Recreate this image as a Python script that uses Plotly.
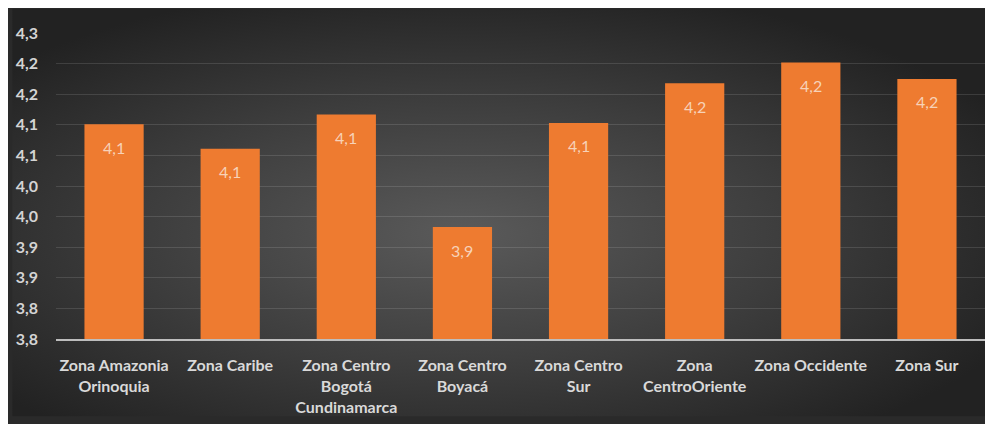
import base64
import plotly.graph_objects as go

categories = [
    "Zona Amazonia<br>Orinoquia",
    "Zona Caribe",
    "Zona Centro<br>Bogotá<br>Cundinamarca",
    "Zona Centro<br>Boyacá",
    "Zona Centro<br>Sur",
    "Zona<br>CentroOriente",
    "Zona Occidente",
    "Zona Sur",
]
values = [4.101, 4.061, 4.117, 3.933, 4.103, 4.168, 4.202, 4.175]
tick_values = [3.75, 3.80, 3.85, 3.90, 3.95, 4.00, 4.05, 4.10, 4.15, 4.20, 4.25]
tick_labels = ["3,8", "3,8", "3,9", "3,9", "4,0", "4,0", "4,1", "4,1", "4,2", "4,2", "4,3"]
bar_labels = [f"{v:.1f}".replace(".", ",") for v in values]

W, H = 985, 416
L, R, T, B = 44, 8, 25, 79
pw, ph = W - L - R, H - T - B

svg = f'''<svg xmlns="http://www.w3.org/2000/svg" width="{W}" height="{H}" viewBox="0 0 {W} {H}" preserveAspectRatio="none">
<defs><radialGradient id="g" cx="46%" cy="55%" r="62%">
<stop offset="0%" stop-color="#5a5a5a"/><stop offset="55%" stop-color="#3c3c3c"/><stop offset="100%" stop-color="#222222"/>
</radialGradient></defs>
<rect x="0" y="0" width="{W}" height="{H}" fill="url(#g)"/></svg>'''
src = "data:image/svg+xml;base64," + base64.b64encode(svg.encode()).decode()

fig = go.Figure()
fig.add_trace(go.Bar(
    x=categories, y=values,
    marker=dict(color="#ee7b30", line=dict(width=0)),
    hoverinfo="skip",
))

for c, v, t in zip(categories, values, bar_labels):
    fig.add_annotation(x=c, y=v, text=t, showarrow=False, yshift=-23,
                       font=dict(family="Lato", size=16, color="#f7d2b8"))

fig.update_layout(
    width=W, height=H,
    margin=dict(l=L, r=R, t=T, b=B, pad=0),
    paper_bgcolor="#2a2a2a",
    plot_bgcolor="rgba(0,0,0,0)",
    bargap=0.49,
    showlegend=False,
    images=[dict(source=src, xref="paper", yref="paper",
                 x=-L / pw, y=(H - B) / ph,
                 sizex=W / pw, sizey=H / ph,
                 xanchor="left", yanchor="top", sizing="stretch", layer="below")],
    xaxis=dict(
        showgrid=False, showline=True, linecolor="#bdbdbd", linewidth=2,
        ticks="", ticklabelstandoff=11,
        tickfont=dict(family="Lato", size=16, color="#d9d9d9", weight="bold"),
        tickangle=0,
    ),
    yaxis=dict(
        range=[3.75, 4.25], tickvals=tick_values, ticktext=tick_labels,
        showgrid=True, gridcolor="rgba(255,255,255,0.12)", gridwidth=1,
        zeroline=False, showline=False, ticks="",
        ticklabelstandoff=17,
        tickfont=dict(family="Lato", size=16, color="#d4d4d4", weight="bold"),
    ),
)

fig.write_html("out.html")
